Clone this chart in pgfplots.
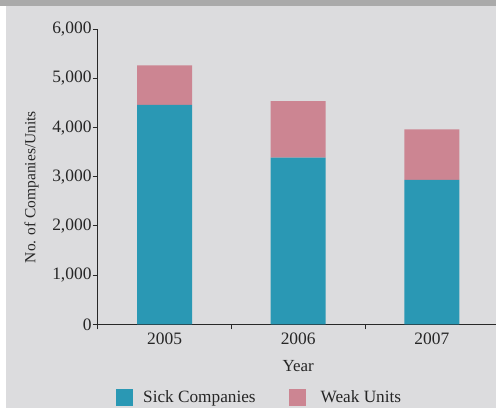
\documentclass[border=0pt]{standalone}
\usepackage{fontspec}
\setmainfont{Liberation Serif}
\usepackage{pgfplots}
\pgfplotsset{compat=1.18}
\definecolor{sick}{RGB}{42,152,180}
\definecolor{weak}{RGB}{204,133,146}
\definecolor{bg}{RGB}{220,220,222}
\definecolor{band}{RGB}{170,170,170}
\definecolor{spine}{RGB}{40,40,40}
\begin{document}
\fontsize{17}{20}\selectfont
\begin{tikzpicture}
\fill[white] (0,0) rectangle (496bp,408bp);
\fill[bg] (6bp,0) rectangle (496bp,402bp);
\fill[band] (0,402bp) rectangle (496bp,408bp);
\begin{axis}[
  at={(97.7bp,83.7bp)}, anchor=south west,
  scale only axis, width=401bp, height=295bp,
  xmin=-0.5, xmax=2.5, ymin=0, ymax=6000,
  ybar stacked, bar width=55bp,
  axis lines*=left,
  axis line style={spine, line width=1pt, -},
  every tick/.style={spine, line width=1pt},
  tick align=outside, major tick length=5bp,
  xtick={-0.5,0.5,1.5}, xticklabels={},
  extra x ticks={0,1,2}, extra x tick labels={2005,2006,2007},
  extra x tick style={major tick length=0pt, xticklabel style={yshift=-3bp}},
  ytick={0,1000,2000,3000,4000,5000,6000},
  /pgf/number format/assume math mode=true,
  /pgf/number format/1000 sep={,},
  scaled y ticks=false,
  ticklabel style={font=\fontsize{17.5}{20}\selectfont, text=black!85},
  yticklabel style={inner xsep=1pt},
  label style={font=\fontsize{17}{20}\selectfont, text=black!85},
  ylabel={No. of Companies/Units},
  ylabel style={at={(axis description cs:-0.1646,0.465)}, anchor=center, font=\fontsize{15.5}{18}\selectfont},
  xlabel={Year},
  xlabel style={at={(axis description cs:0.5,-0.141)}, anchor=center},
  legend style={at={(axis description cs:0.0456,-0.248)}, anchor=west,
    draw=none, fill=none, legend columns=2, inner sep=0pt,
    font=\fontsize{17.3}{20}\selectfont, text=black!85,
    nodes={inner sep=0pt, anchor=west},
    /tikz/every odd column/.style={column sep=10bp},
    /tikz/every even column/.style={column sep=33bp}},
  legend image code/.code={\fill[#1] (0bp,-8.5bp) rectangle (17bp,8.5bp);},
]
\addplot[fill=sick, draw=none] coordinates {(0,4465) (1,3390) (2,2935)};
\addlegendentry{Sick Companies}
\addplot[fill=weak, draw=none] coordinates {(0,800) (1,1150) (2,1030)};
\addlegendentry{\hspace{5bp}Weak Units}
\end{axis}
\pgfresetboundingbox
\path (0,0) rectangle (496bp,408bp);
\end{tikzpicture}
\end{document}
